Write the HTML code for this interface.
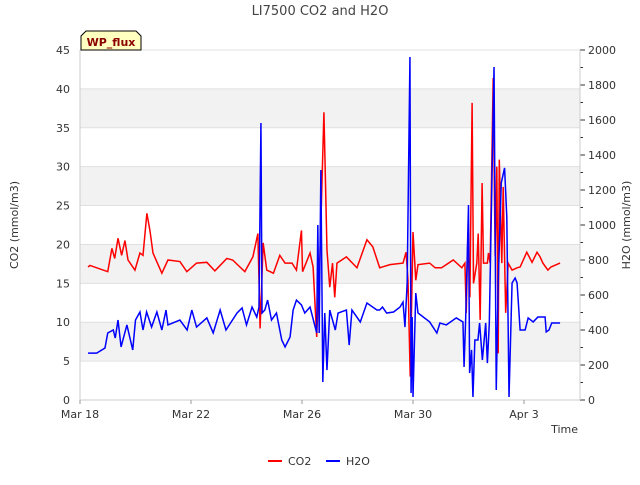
<!DOCTYPE html>
<html><head><meta charset="utf-8"><style>
body{margin:0;background:#fff;font-family:"Liberation Sans",sans-serif;}
svg text{font-family:"DejaVu Sans","Liberation Sans",sans-serif;}
</style></head><body>
<svg id="c" width="640" height="480">
<text x="320" y="15" text-anchor="middle" font-size="13" fill="#444">LI7500 CO2 and H2O</text>
<g id="bands"></g>
<g id="axes"></g>
<g id="series"></g>
<g>
<path d="M81,50 L81,36 L86,31 L136,31 L141,36 L141,50 Z" fill="#ffffc0" stroke="#000" stroke-width="1"/>
<text x="111" y="46" text-anchor="middle" font-size="11" font-weight="bold" fill="#8b0000">WP_flux</text>
</g>
<text x="18" y="225" transform="rotate(-90 18 225)" text-anchor="middle" font-size="11" fill="#333">CO2 (mmol/m3)</text>
<text x="630" y="225" transform="rotate(-90 630 225)" text-anchor="middle" font-size="11" fill="#333">H2O (mmol/m3)</text>
<text x="578" y="433" text-anchor="end" font-size="11" fill="#333">Time</text>
<g><line x1="268" y1="461" x2="282" y2="461" stroke="red" stroke-width="2"/><text x="288" y="465" font-size="11" fill="#333">CO2</text></g>
<g><line x1="326" y1="461" x2="340" y2="461" stroke="blue" stroke-width="2"/><text x="346" y="465" font-size="11" fill="#333">H2O</text></g>
</svg>
<script>
const xTickLabels=["Mar 18","Mar 22","Mar 26","Mar 30","Apr 3"];
const xTickDays=[0,4,8,12,16];
const yLeftTicks=[0,5,10,15,20,25,30,35,40,45];
const yRightTicks=[0,200,400,600,800,1000,1200,1400,1600,1800,2000];
const co2Days=[0.29,0.36,1.0,1.15,1.25,1.37,1.5,1.62,1.73,1.98,2.16,2.27,2.41,2.52,2.63,2.95,3.17,3.6,3.85,4.2,4.57,4.86,5.29,5.5,5.94,6.23,6.41,6.49,6.6,6.73,6.97,7.2,7.39,7.64,7.8,7.98,8.02,8.29,8.4,8.53,8.65,8.79,8.9,9.0,9.1,9.18,9.26,9.6,9.98,10.34,10.55,10.8,11.17,11.64,11.75,11.82,11.9,12.0,12.1,12.18,12.6,12.8,13.03,13.45,13.76,13.87,13.92,13.98,14.05,14.13,14.18,14.3,14.35,14.42,14.49,14.54,14.68,14.72,14.78,14.89,14.96,15.02,15.07,15.11,15.2,15.25,15.34,15.43,15.57,15.75,15.86,16.1,16.29,16.47,16.58,16.68,16.86,16.97,17.3];
const co2Vals=[17.1,17.3,16.5,19.5,18.2,20.8,18.6,20.5,18,16.7,18.9,18.6,24,21.8,18.9,16.3,18,17.8,16.5,17.6,17.7,16.6,18.2,18,16.5,18.4,21.4,9.2,20.2,16.7,16.3,18.6,17.6,17.6,16.7,21.8,16.5,18.9,17.1,8.1,18.9,37,19.3,14.5,17.6,13.2,17.6,18.4,17,20.6,19.7,17,17.4,17.6,19,15.4,3,21.6,15.4,17.4,17.6,17,17,18,17,17.6,11.2,21.4,13.2,38.2,15,17.6,21.4,10.3,27.9,17.6,17.6,18.9,17.6,41.4,18.5,30,6,30.9,17.6,27.4,11.2,17.6,16.7,17,17.1,19,17.7,19,18.4,17.6,16.7,17.1,17.6];
const h2oDays=[0.29,0.6,0.9,1.0,1.2,1.27,1.37,1.48,1.69,1.9,2.0,2.16,2.27,2.4,2.58,2.77,2.95,3.1,3.17,3.6,3.86,4.03,4.2,4.57,4.8,5.05,5.26,5.66,5.84,6.0,6.2,6.37,6.45,6.52,6.56,6.66,6.76,6.9,7.08,7.27,7.39,7.57,7.68,7.8,7.98,8.1,8.29,8.53,8.57,8.62,8.68,8.75,8.82,8.9,9.0,9.2,9.3,9.6,9.7,9.8,10.1,10.34,10.7,10.8,10.9,11.05,11.3,11.53,11.64,11.71,11.79,11.89,11.93,11.97,12.0,12.1,12.18,12.6,12.86,12.97,13.2,13.56,13.8,13.84,13.9,14.0,14.04,14.11,14.16,14.23,14.34,14.4,14.5,14.62,14.68,14.75,14.92,15.0,15.07,15.18,15.3,15.38,15.46,15.57,15.68,15.75,15.86,16.04,16.15,16.33,16.5,16.76,16.8,16.9,17.0,17.3];
const h2oVals=[268,268,297,383,400,354,457,303,429,286,457,503,400,503,417,503,400,514,429,457,400,514,417,469,383,514,400,497,526,429,531,474,531,1583,497,514,571,457,497,343,303,360,514,571,543,497,531,383,1000,383,1314,103,497,171,514,400,497,514,314,514,446,554,514,514,531,497,503,531,560,417,669,1960,40,474,17,611,497,446,383,440,429,469,446,189,474,1114,154,286,17,343,343,440,229,440,211,440,1903,57,669,1240,1326,1046,17,669,697,669,400,400,469,446,474,474,389,400,440,440];

const L=80,R=580,T=50,B=400;
const xs=d=>L+d*27.75;
const yl=v=>B-(v/45)*(B-T);
const yr=v=>B-(v/2000)*(B-T);
const NS="http://www.w3.org/2000/svg";
function mk(tag,attrs,parent){const e=document.createElementNS(NS,tag);for(const k in attrs)e.setAttribute(k,attrs[k]);document.getElementById(parent).appendChild(e);return e;}
[5,15,25,35].forEach(v=>{
  const r=mk('rect',{x:L,y:yl(v+5),width:R-L,height:yl(v)-yl(v+5),fill:'#f2f2f2'},'bands');
  
  
});
yLeftTicks.forEach(v=>{
  const g=mk('line',{x1:L,x2:R,y1:yl(v),y2:yl(v),stroke:'#e0e0e0','stroke-width':1},'axes');
  
  
  const t=mk('text',{x:L-10,y:yl(v)+4,'text-anchor':'end','font-size':11,fill:'#333'},'axes');
  t.textContent=v;
  
  
});
yRightTicks.forEach(v=>{
  mk('line',{x1:R,x2:R+5,y1:yr(v),y2:yr(v),stroke:'#333'},'axes');
  const t=mk('text',{x:R+8,y:yr(v)+4,'font-size':11,fill:'#333'},'axes');
  t.textContent=v;
  
  
});
for(let v=100;v<2000;v+=200)mk('line',{x1:R,x2:R+3,y1:yr(v),y2:yr(v),stroke:'#333'},'axes');
mk('line',{x1:L,x2:L,y1:T,y2:B,stroke:'#ccc'},'axes');
mk('line',{x1:R,x2:R,y1:T,y2:B,stroke:'#ccc'},'axes');
mk('line',{x1:L,x2:R,y1:B,y2:B,stroke:'#ccc'},'axes');
xTickLabels.forEach((lab,i)=>{
  mk('line',{x1:xs(xTickDays[i]),x2:xs(xTickDays[i]),y1:B,y2:B+4,stroke:'#999'},'axes');
  const t=mk('text',{x:xs(xTickDays[i]),y:B+18,'text-anchor':'middle','font-size':11,fill:'#333'},'axes');
  t.textContent=lab;
  
  
});
const co2=mk('polyline',{points:co2Days.map((d,i)=>xs(d)+','+yl(co2Vals[i])).join(' '),fill:'none',stroke:'red','stroke-width':1.5},'series');


const h2o=mk('polyline',{points:h2oDays.map((d,i)=>xs(d)+','+yr(h2oVals[i])).join(' '),fill:'none',stroke:'blue','stroke-width':1.5},'series');


</script>
</body></html>
